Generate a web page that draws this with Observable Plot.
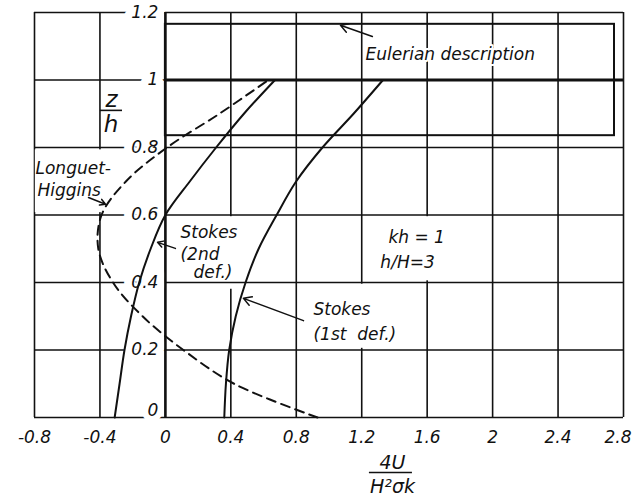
<!DOCTYPE html>
<html>
<head>
<meta charset="utf-8">
<script src="https://cdn.jsdelivr.net/npm/d3@7"></script>
<script src="https://cdn.jsdelivr.net/npm/@observablehq/plot@0.6"></script>
<style>
  html, body { margin: 0; padding: 0; background: #fff; }
  svg { display: block; }
</style>
</head>
<body>
<div id="chart"></div>
<script>
// ---- data ----
const xTicks = [-0.8, -0.4, 0, 0.4, 0.8, 1.2, 1.6, 2, 2.4, 2.8];
const xTickLabels = ["-0.8", "-0.4", "0", "0.4", "0.8", "1.2", "1.6", "2", "2.4", "2.8"];
const yTicks = [0, 0.2, 0.4, 0.6, 0.8, 1, 1.2];
const yTickLabels = ["0", "0.2", "0.4", "0.6", "0.8", "1", "1.2"];

const zLevels = [0, 0.1, 0.2, 0.3, 0.4, 0.5, 0.6, 0.7, 0.8, 0.9, 1.0];
const stokesFirst = [0.36, 0.37, 0.39, 0.43, 0.49, 0.57, 0.68, 0.80, 0.96, 1.15, 1.33];
const stokesSecond = [-0.31, -0.28, -0.25, -0.21, -0.16, -0.09, 0.0, 0.15, 0.31, 0.48, 0.67];
const longuetHiggins = [0.93, 0.42, 0.11, -0.14, -0.32, -0.41, -0.39, -0.24, 0.01, 0.33, 0.63];

// Eulerian description region and free surface
const eulerianBox = [{x1: 0, x2: 2.745, y1: 0.835, y2: 1.165}];
const freeSurface = [{y: 1, x1: 0, x2: 2.8}];
const zeroAxis = [{x: 0, y1: 0, y2: 1.2}];

// annotation labels (data coordinates)
const labelBoxes = [
  {x1: -0.795, x2: -0.30, y1: 0.607, y2: 0.793},
  {x1: 0.015, x2: 0.46, y1: 0.38, y2: 0.595},
  {x1: 0.86, x2: 1.55, y1: 0.205, y2: 0.395},
  {x1: 1.25, x2: 1.95, y1: 0.405, y2: 0.595}
];
const labels = [
  {x: -0.794, y: 0.738, text: "Longuet-"},
  {x: -0.782, y: 0.673, text: "Higgins"},
  {x: 0.092, y: 0.548, text: "Stokes"},
  {x: 0.092, y: 0.483, text: "(2nd"},
  {x: 0.172, y: 0.430, text: "def.)"},
  {x: 0.905, y: 0.320, text: "Stokes"},
  {x: 0.905, y: 0.246, text: "(1st  def.)"},
  {x: 1.363, y: 0.533, text: "kh = 1"},
  {x: 1.314, y: 0.459, text: "h/H=3"}
];
const eulerianLabel = [{x: 1.223, y: 1.076, text: "Eulerian description"}];
const arrows = [
  {x1: 1.265, y1: 1.129, x2: 1.07, y2: 1.162},
  {x1: 0.844, y1: 0.287, x2: 0.477, y2: 0.353},
  {x1: 0.061, y1: 0.501, x2: -0.048, y2: 0.519},
  {x1: -0.47, y1: 0.652, x2: -0.366, y2: 0.632}
];
// axis titles as fractions
const yTitleParts = [
  {x: -0.329, y: 0.941, text: "z"},
  {x: -0.333, y: 0.868, text: "h"}
];
const yTitleBar = [{y: 0.910, x1: -0.397, x2: -0.262}];
const xTitleParts = [
  {x: 1.388, y: -0.136, text: "4U"},
  {x: 1.388, y: -0.207, text: "H²σk"}
];
const xTitleBar = [{y: -0.163, x1: 1.247, x2: 1.51}];

// ---- build table ----
const curves = [];
zLevels.forEach((z, i) => {
  curves.push({series: "Stokes 1st", z, u: stokesFirst[i]});
  curves.push({series: "Stokes 2nd", z, u: stokesSecond[i]});
  curves.push({series: "Longuet-Higgins", z, u: longuetHiggins[i]});
});
const xTickRows = xTicks.map((x, i) => ({x, label: xTickLabels[i]}));
const lastTick = xTickRows.length - 1;

const ink = "#111";
const font = "DejaVu Sans";

const chart = Plot.plot({
  width: 632,
  height: 496,
  marginLeft: 34,
  marginRight: 9,
  marginTop: 12,
  marginBottom: 79,
  x: {domain: [-0.8, 2.8], axis: null},
  y: {domain: [0, 1.2], axis: null},
  style: {fontFamily: font, background: "white", color: ink},
  marks: [
    Plot.ruleX(xTicks, {y1: 0, y2: 1.2, stroke: ink, strokeWidth: 1.6}),
    Plot.rect(labelBoxes, {x1: "x1", x2: "x2", y1: "y1", y2: "y2", fill: "white"}),
    Plot.ruleY(yTicks, {x1: -0.8, x2: 2.8, stroke: ink, strokeWidth: 1.6}),
    Plot.text(yTicks.slice(1), {
      x: 0, y: d => d, text: (d, i) => yTickLabels[i + 1],
      dx: -7, textAnchor: "end", fontSize: 17, fontStyle: "italic",
      fill: ink, stroke: "white", strokeWidth: 16
    }),
    Plot.text([yTicks[0]], {
      x: 0, y: d => d, text: () => yTickLabels[0],
      dx: -7, dy: -2, textAnchor: "end", lineAnchor: "bottom", fontSize: 17, fontStyle: "italic",
      fill: ink, stroke: "white", strokeWidth: 12
    }),
    Plot.ruleX(zeroAxis, {x: "x", y1: "y1", y2: "y2", stroke: ink, strokeWidth: 2.5}),
    Plot.ruleY(freeSurface, {y: "y", x1: "x1", x2: "x2", stroke: ink, strokeWidth: 3}),
    Plot.rect(eulerianBox, {x1: "x1", x2: "x2", y1: "y1", y2: "y2", fill: "none", stroke: ink, strokeWidth: 2}),
    Plot.line(curves.filter(d => d.series === "Longuet-Higgins"), {
      x: "u", y: "z", curve: "catmull-rom", stroke: ink, strokeWidth: 2, strokeDasharray: "9,6"
    }),
    Plot.line(curves.filter(d => d.series !== "Longuet-Higgins"), {
      x: "u", y: "z", z: "series", curve: "catmull-rom", stroke: ink, strokeWidth: 2
    }),
    Plot.text(labels, {x: "x", y: "y", text: "text", textAnchor: "start", fontSize: 17, fontStyle: "italic", fill: ink}),
    Plot.text(eulerianLabel, {x: "x", y: "y", text: "text", textAnchor: "start", fontSize: 17, fontStyle: "italic", fill: ink, stroke: "white", strokeWidth: 4}),
    Plot.arrow(arrows, {x1: "x1", y1: "y1", x2: "x2", y2: "y2", stroke: ink, strokeWidth: 1.5, headLength: 9}),
    // x tick labels
    Plot.text(xTickRows.slice(0, lastTick), {
      x: "x", y: 0, text: "label", dy: 20, fontSize: 17, fontStyle: "italic", fill: ink
    }),
    Plot.text(xTickRows.slice(lastTick), {
      x: "x", y: 0, text: "label", dy: 20, dx: 8, textAnchor: "end", fontSize: 17, fontStyle: "italic", fill: ink
    }),
    Plot.text(yTitleParts, {x: "x", y: "y", text: "text", fontSize: 23, fontStyle: "italic", fill: ink}),
    Plot.ruleY(yTitleBar, {y: "y", x1: "x1", x2: "x2", stroke: ink, strokeWidth: 1.6}),
    Plot.text(xTitleParts, {x: "x", y: "y", text: "text", fontSize: 19, fontStyle: "italic", fill: ink}),
    Plot.ruleY(xTitleBar, {y: "y", x1: "x1", x2: "x2", stroke: ink, strokeWidth: 1.6})
  ]
});
document.getElementById("chart").appendChild(chart);
</script>
</body>
</html>
